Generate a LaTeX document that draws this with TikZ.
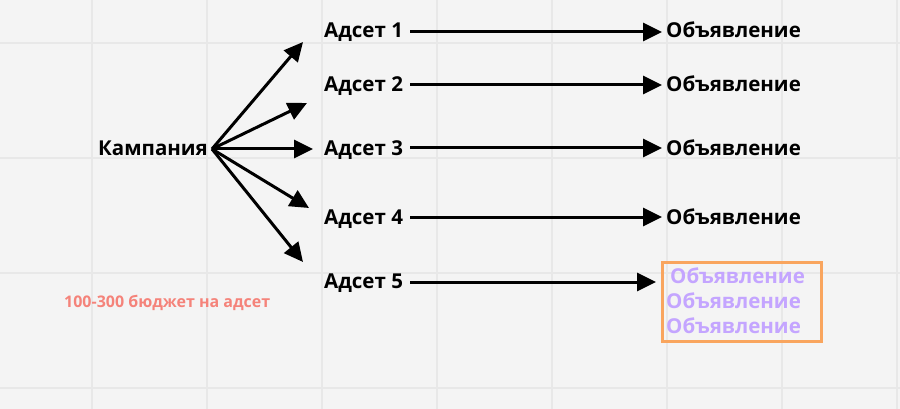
\documentclass[tikz,border=0pt]{standalone}
\usepackage{fontspec}
\setmainfont{Open Sans}[UprightFont=* Bold]
\usetikzlibrary{arrows.meta}
\definecolor{bgc}{HTML}{F4F4F4}
\definecolor{gridc}{HTML}{E8E8E8}
\definecolor{boxc}{HTML}{F9A55E}
\definecolor{purp}{HTML}{C4A5FF}
\definecolor{notec}{HTML}{F5837A}
\tikzset{
  lbl/.style={anchor=base west, inner sep=0pt, font=\fontsize{20.5}{22}\selectfont, text=black},
  adp/.style={anchor=base west, inner sep=0pt, font=\fontsize{20.5}{22}\selectfont, text=purp},
  note/.style={anchor=base west, inner sep=0pt, font=\fontsize{16}{18}\selectfont, text=notec},
  arr/.style={line width=3pt, -{Triangle[length=19pt,width=18pt]}},
}
\begin{document}
\begin{tikzpicture}[x=1pt,y=-1pt]
\fill[bgc] (0,0) rectangle (900,409);
\useasboundingbox (0,0) rectangle (900,409);
\foreach \gx in {92,207,322,437,552,667,782,897} \draw[gridc,line width=1.5pt] (\gx,0) -- (\gx,409);
\foreach \gy in {43,158,273,388} \draw[gridc,line width=1.5pt] (0,\gy) -- (900,\gy);

\node[lbl] (k) at (98,155.5) {Кампания};
\node[lbl] (a1) at (324,37.5) {Адсет 1};
\node[lbl] (a2) at (324,91.5) {Адсет 2};
\node[lbl] (a3) at (324,155.5) {Адсет 3};
\node[lbl] (a4) at (324,224.5) {Адсет 4};
\node[lbl] (a5) at (324,288.5) {Адсет 5};
\node[lbl] (o1) at (666,37.5) {Объявление};
\node[lbl] (o2) at (666,91.5) {Объявление};
\node[lbl] (o3) at (666,155.5) {Объявление};
\node[lbl] (o4) at (666,224.5) {Объявление};
\node[draw=boxc, line width=3pt, minimum width=159pt, minimum height=79pt, inner sep=0pt] (box) at (741.5,301.5) {};
\node[adp] (p1) at (670,283.5) {Объявление};
\node[adp] (p2) at (666,308.5) {Объявление};
\node[adp] (p3) at (666,333.5) {Объявление};
\node[note] (n) at (64,307.5) {100-300 бюджет на адсет};

\coordinate (src) at (212,149);
\coordinate (t1) at (303,42);
\coordinate (t2) at (307,103);
\coordinate (t3) at (313,149);
\coordinate (t4) at (309,208);
\coordinate (t5) at (303,262);
\foreach \t in {t1,t2,t3,t4,t5} \draw[arr] (src) -- (\t);

\draw[arr] (410,32) -- (662,32);
\draw[arr] (410,85) -- (662,85);
\draw[arr] (410,148) -- (662,148);
\draw[arr] (410,217) -- (662,217);
\draw[arr] (410,282) -- (656,282);
\end{tikzpicture}
\end{document}
